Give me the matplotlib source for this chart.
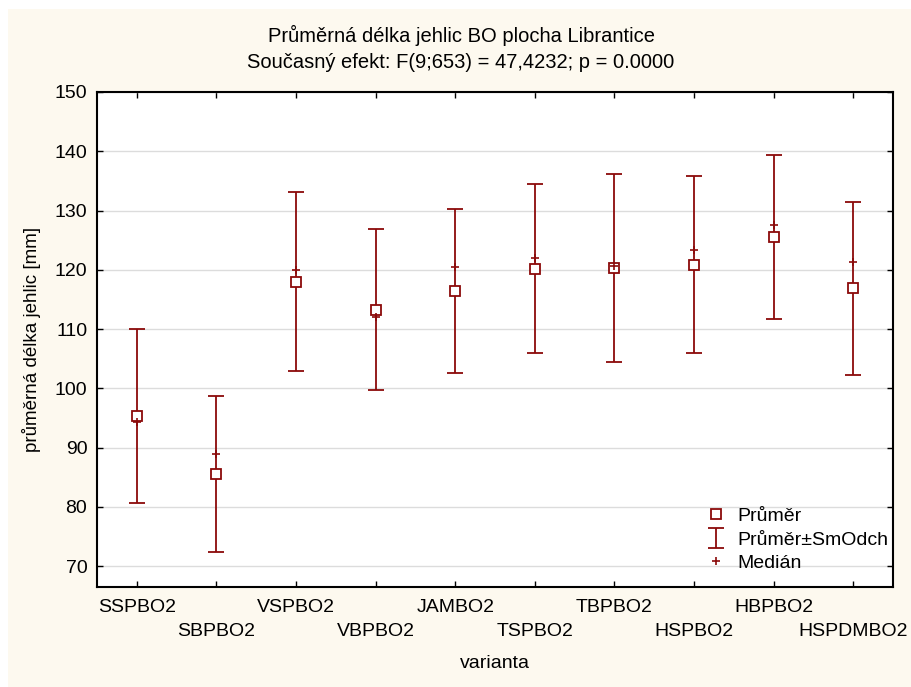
import matplotlib
matplotlib.use("Agg")
import matplotlib.pyplot as plt
from matplotlib.patches import Rectangle
import numpy as np

# data
varianty = ["SSPBO2", "SBPBO2", "VSPBO2", "VBPBO2", "JAMBO2",
            "TSPBO2", "TBPBO2", "HSPBO2", "HBPBO2", "HSPDMBO2"]
prumer = [95.3, 85.6, 118.0, 113.3, 116.4, 120.2, 120.3, 120.9, 125.5, 116.9]
smodch = [14.7, 13.2, 15.1, 13.6, 13.8, 14.2, 15.8, 14.9, 13.8, 14.6]
median = [94.4, 89.0, 120.0, 112.1, 120.4, 122.0, 120.6, 123.3, 127.6, 121.3]

barva = "#8b0a0a"
pozadi = "#fdf9ef"

plt.rcParams['font.family'] = ['Liberation Sans', 'DejaVu Sans']

fig = plt.figure(figsize=(9.11, 6.87), dpi=100)
fig.patch.set_facecolor("white")
fig.patches.append(Rectangle((8 / 911, 0), 1, 1 - 9 / 687, transform=fig.transFigure,
                             facecolor=pozadi, edgecolor="none", zorder=-10))

ax = fig.add_axes([97 / 911, 1 - 587 / 687, (893 - 97) / 911, (587 - 92) / 687])
ax.set_zorder(1)
ax.set_facecolor("white")

x = np.arange(len(varianty))

eb = ax.errorbar(x, prumer, yerr=smodch, fmt="none", ecolor=barva, elinewidth=1.3,
                 capsize=6, capthick=1.3, zorder=3, label="Průměr±SmOdch")
pr, = ax.plot(x, prumer, linestyle="none", marker="s", markersize=6.5,
              markerfacecolor="white", markeredgecolor=barva, markeredgewidth=1.3,
              zorder=4, label="Průměr")
md, = ax.plot(x, median, linestyle="none", marker="+", markersize=6,
              color=barva, markeredgewidth=1.2, zorder=5, label="Medián")

ax.set_xlim(-0.5, 9.5)
ax.set_ylim(66.5, 150)
ax.set_yticks(np.arange(70, 151, 10))
ax.yaxis.grid(True, color="#dcdcdc", linewidth=1)
ax.set_axisbelow(True)

ax.set_xticks(x[::2], [varianty[i] for i in x[::2]])
ax.set_xticks(x[1::2], [varianty[i] for i in x[1::2]], minor=True)
ax.tick_params(axis="both", which="both", direction="in", length=4, width=1,
               top=True, right=True, labelsize=14, colors="black")
ax.tick_params(axis="x", which="major", pad=9)
ax.tick_params(axis="x", which="minor", pad=26)
ax.tick_params(axis="y", pad=7)
for s in ax.spines.values():
    s.set_linewidth(1.5)

ax.set_xlabel("varianta", fontsize=14, labelpad=11)
ax.set_ylabel("průměrná délka jehlic [mm]", fontsize=13.5, labelpad=10)

fig.text(461 / 911, 1 - 35 / 687, "Průměrná délka jehlic BO plocha Librantice",
         ha="center", va="center", fontsize=14.5)
fig.text(461 / 911, 1 - 63 / 687, "Současný efekt: F(9;653) = 47,4232; p = 0.0000",
         ha="center", va="center", fontsize=14.5)

ax.legend(handles=[pr, eb, md], loc="lower right", bbox_to_anchor=(0.9937, 0.03),
          borderpad=0, borderaxespad=0, frameon=False, fontsize=14,
          handlelength=1.0, handletextpad=0.6, labelspacing=0.3)

fig.savefig("out.png", dpi=100, facecolor=fig.get_facecolor())
